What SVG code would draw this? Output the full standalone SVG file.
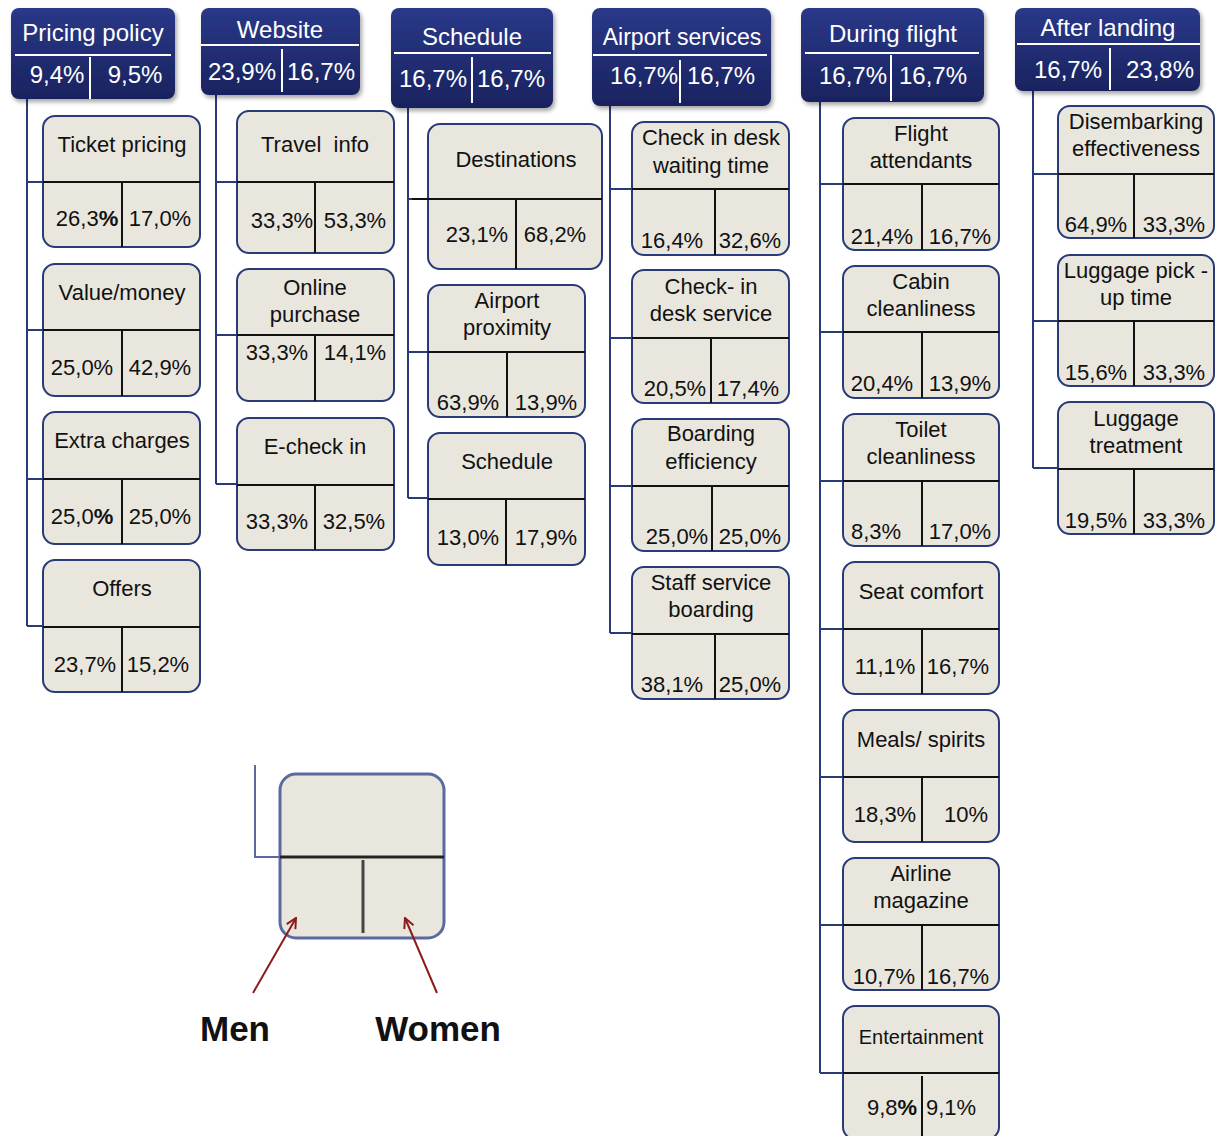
<svg xmlns="http://www.w3.org/2000/svg" width="1219" height="1136" viewBox="0 0 1219 1136">
<defs>
<linearGradient id="hg" x1="0" y1="0" x2="0" y2="1">
<stop offset="0" stop-color="#2a3888"/>
<stop offset="1" stop-color="#19235f"/>
</linearGradient>
<filter id="sh" x="-10%" y="-10%" width="130%" height="130%">
<feDropShadow dx="2" dy="3" stdDeviation="2" flood-color="#000" flood-opacity="0.35"/>
</filter>
<marker id="ah" viewBox="0 0 12 12" refX="11" refY="6" markerWidth="12" markerHeight="12" markerUnits="userSpaceOnUse" orient="auto">
<path d="M1,1 L11,6 L1,11" fill="none" stroke="#8b1c1c" stroke-width="2"/>
</marker>
</defs>
<style>
text{font-family:"Liberation Sans",Arial,sans-serif}
.hb{fill:url(#hg);filter:url(#sh)}
.hl{stroke:#fff;stroke-width:2}
.ht{fill:#fff;font-size:24px;text-anchor:middle}
.cb{fill:#e9e7dd;stroke:#283a78;stroke-width:2}
.dl{stroke:#111;stroke-width:2}
.ct{fill:#111;font-size:22px;text-anchor:middle}
.cn{fill:none;stroke:#283a78;stroke-width:2}
.b{font-weight:bold}
</style>
<rect width="1219" height="1136" fill="#fff"/>

<g id="connectors">
<path class="cn" d="M27,99 V626 M27,182 H43 M27,330 H43 M27,479 H43 M27,626 H43"/>
<path class="cn" d="M216,95 V484 M216,182 H237 M216,335 H237 M216,484 H237"/>
<path class="cn" d="M408,108 V498 M408,199 H428 M408,352 H428 M408,498 H428"/>
<path class="cn" d="M610,106 V633 M610,189 H632 M610,338 H632 M610,486 H632 M610,633 H632"/>
<path class="cn" d="M820,102 V1073 M820,184 H843 M820,332 H843 M820,481 H843 M820,629 H843 M820,777 H843 M820,925 H843 M820,1073 H843"/>
<path class="cn" d="M1033,91 V468 M1033,174 H1058 M1033,321 H1058 M1033,468 H1058"/>
</g>

<g id="h-pricing">
<rect class="hb" x="11" y="8" width="164" height="91" rx="8"/>
<line class="hl" x1="15" y1="55" x2="171" y2="55"/>
<line class="hl" x1="90" y1="57" x2="90" y2="99"/>
<text class="ht" x="93" y="41">Pricing policy</text>
<text class="ht" x="57" y="83">9,4%</text>
<text class="ht" x="135" y="83">9,5%</text>
</g>
<g id="h-website">
<rect class="hb" x="201" y="8" width="159" height="87" rx="8"/>
<line class="hl" x1="201" y1="45" x2="359" y2="45"/>
<line class="hl" x1="282" y1="49" x2="282" y2="92"/>
<text class="ht" x="280" y="38">Website</text>
<text class="ht" x="242" y="80">23,9%</text>
<text class="ht" x="321" y="80">16,7%</text>
</g>
<g id="h-schedule">
<rect class="hb" x="391" y="8" width="162" height="100" rx="8"/>
<line class="hl" x1="394" y1="53" x2="551" y2="53"/>
<line class="hl" x1="472" y1="57" x2="472" y2="103"/>
<text class="ht" x="472" y="45">Schedule</text>
<text class="ht" x="433" y="87">16,7%</text>
<text class="ht" x="511" y="87">16,7%</text>
</g>
<g id="h-airport">
<rect class="hb" x="592" y="8" width="179" height="98" rx="8"/>
<line class="hl" x1="593" y1="55" x2="767" y2="55"/>
<line class="hl" x1="680" y1="60" x2="680" y2="103"/>
<text class="ht" x="682" y="45" style="font-size:23px">Airport services</text>
<text class="ht" x="644" y="84">16,7%</text>
<text class="ht" x="721" y="84">16,7%</text>
</g>
<g id="h-during">
<rect class="hb" x="801" y="8" width="183" height="94" rx="8"/>
<line class="hl" x1="805" y1="53" x2="979" y2="53"/>
<line class="hl" x1="891" y1="55" x2="891" y2="101"/>
<text class="ht" x="893" y="42">During flight</text>
<text class="ht" x="853" y="84">16,7%</text>
<text class="ht" x="933" y="84">16,7%</text>
</g>
<g id="h-after">
<rect class="hb" x="1015" y="8" width="185" height="83" rx="8"/>
<line class="hl" x1="1017" y1="44" x2="1200" y2="44"/>
<line class="hl" x1="1110" y1="48" x2="1110" y2="90"/>
<text class="ht" x="1108" y="36">After landing</text>
<text class="ht" x="1068" y="78">16,7%</text>
<text class="ht" x="1160" y="78">23,8%</text>
</g>

<!-- column 1 -->
<g id="n-ticket">
<rect class="cb" x="43" y="116" width="157" height="131" rx="12"/>
<line class="dl" x1="43" y1="182" x2="200" y2="182"/>
<line class="dl" x1="122" y1="182" x2="122" y2="247"/>
<text class="ct" x="122" y="152">Ticket pricing</text>
<text class="ct" x="87" y="226">26,3<tspan class="b">%</tspan></text>
<text class="ct" x="160" y="226">17,0%</text>
</g>
<g id="n-value">
<rect class="cb" x="43" y="264" width="157" height="132" rx="12"/>
<line class="dl" x1="43" y1="330" x2="200" y2="330"/>
<line class="dl" x1="122" y1="330" x2="122" y2="396"/>
<text class="ct" x="122" y="300">Value/money</text>
<text class="ct" x="82" y="375">25,0%</text>
<text class="ct" x="160" y="375">42,9%</text>
</g>
<g id="n-extra">
<rect class="cb" x="43" y="412" width="157" height="132" rx="12"/>
<line class="dl" x1="43" y1="479" x2="200" y2="479"/>
<line class="dl" x1="122" y1="479" x2="122" y2="544"/>
<text class="ct" x="122" y="448">Extra charges</text>
<text class="ct" x="82" y="524">25,0<tspan class="b">%</tspan></text>
<text class="ct" x="160" y="524">25,0%</text>
</g>
<g id="n-offers">
<rect class="cb" x="43" y="560" width="157" height="132" rx="12"/>
<line class="dl" x1="43" y1="627" x2="200" y2="627"/>
<line class="dl" x1="122" y1="627" x2="122" y2="692"/>
<text class="ct" x="122" y="596">Offers</text>
<text class="ct" x="85" y="672">23,7%</text>
<text class="ct" x="158" y="672">15,2%</text>
</g>

<!-- column 2 -->
<g id="n-travel">
<rect class="cb" x="237" y="111" width="157" height="142" rx="12"/>
<line class="dl" x1="237" y1="182" x2="394" y2="182"/>
<line class="dl" x1="315" y1="182" x2="315" y2="253"/>
<text class="ct" x="315" y="152">Travel&#160; info</text>
<text class="ct" x="282" y="228">33,3%</text>
<text class="ct" x="355" y="228">53,3%</text>
</g>
<g id="n-online">
<rect class="cb" x="237" y="269" width="157" height="132" rx="12"/>
<line class="dl" x1="237" y1="335" x2="394" y2="335"/>
<line class="dl" x1="315" y1="335" x2="315" y2="401"/>
<text class="ct" x="315" y="295">Online</text>
<text class="ct" x="315" y="322">purchase</text>
<text class="ct" x="277" y="360">33,3%</text>
<text class="ct" x="355" y="360">14,1%</text>
</g>
<g id="n-echeck">
<rect class="cb" x="237" y="418" width="157" height="132" rx="12"/>
<line class="dl" x1="237" y1="485" x2="394" y2="485"/>
<line class="dl" x1="315" y1="485" x2="315" y2="550"/>
<text class="ct" x="315" y="454">E-check in</text>
<text class="ct" x="277" y="529">33,3%</text>
<text class="ct" x="354" y="529">32,5%</text>
</g>

<!-- column 3 -->
<g id="n-destinations">
<rect class="cb" x="428" y="124" width="174" height="145" rx="12"/>
<line class="dl" x1="412" y1="199" x2="602" y2="199"/>
<line class="dl" x1="516" y1="199" x2="516" y2="269"/>
<text class="ct" x="516" y="167">Destinations</text>
<text class="ct" x="477" y="242">23,1%</text>
<text class="ct" x="555" y="242">68,2%</text>
</g>
<g id="n-proximity">
<rect class="cb" x="428" y="285" width="157" height="132" rx="12"/>
<line class="dl" x1="428" y1="352" x2="585" y2="352"/>
<line class="dl" x1="507" y1="352" x2="507" y2="417"/>
<text class="ct" x="507" y="308">Airport</text>
<text class="ct" x="507" y="335">proximity</text>
<text class="ct" x="468" y="410">63,9%</text>
<text class="ct" x="546" y="410">13,9%</text>
</g>
<g id="n-schedule">
<rect class="cb" x="428" y="433" width="157" height="132" rx="12"/>
<line class="dl" x1="428" y1="499" x2="585" y2="499"/>
<line class="dl" x1="506" y1="499" x2="506" y2="565"/>
<text class="ct" x="507" y="469">Schedule</text>
<text class="ct" x="468" y="545">13,0%</text>
<text class="ct" x="546" y="545">17,9%</text>
</g>

<!-- column 4 -->
<g id="n-waiting">
<rect class="cb" x="632" y="122" width="157" height="133" rx="12"/>
<line class="dl" x1="632" y1="189" x2="789" y2="189"/>
<line class="dl" x1="715" y1="189" x2="715" y2="255"/>
<text class="ct" x="711" y="145">Check in desk</text>
<text class="ct" x="711" y="173">waiting time</text>
<text class="ct" x="672" y="248">16,4%</text>
<text class="ct" x="750" y="248">32,6%</text>
</g>
<g id="n-deskservice">
<rect class="cb" x="632" y="270" width="157" height="133" rx="12"/>
<line class="dl" x1="632" y1="338" x2="789" y2="338"/>
<line class="dl" x1="711" y1="338" x2="711" y2="403"/>
<text class="ct" x="711" y="294">Check- in</text>
<text class="ct" x="711" y="321">desk service</text>
<text class="ct" x="675" y="396">20,5%</text>
<text class="ct" x="748" y="396">17,4%</text>
</g>
<g id="n-boarding">
<rect class="cb" x="632" y="419" width="157" height="132" rx="12"/>
<line class="dl" x1="632" y1="486" x2="789" y2="486"/>
<line class="dl" x1="712" y1="486" x2="712" y2="551"/>
<text class="ct" x="711" y="441">Boarding</text>
<text class="ct" x="711" y="469">efficiency</text>
<text class="ct" x="677" y="544">25,0%</text>
<text class="ct" x="750" y="544">25,0%</text>
</g>
<g id="n-staff">
<rect class="cb" x="632" y="567" width="157" height="132" rx="12"/>
<line class="dl" x1="632" y1="634" x2="789" y2="634"/>
<line class="dl" x1="715" y1="634" x2="715" y2="699"/>
<text class="ct" x="711" y="590">Staff service</text>
<text class="ct" x="711" y="617">boarding</text>
<text class="ct" x="672" y="692">38,1%</text>
<text class="ct" x="750" y="692">25,0%</text>
</g>

<!-- column 5 -->
<g id="n-attendants">
<rect class="cb" x="843" y="118" width="156" height="132" rx="12"/>
<line class="dl" x1="843" y1="184" x2="999" y2="184"/>
<line class="dl" x1="922" y1="184" x2="922" y2="250"/>
<text class="ct" x="921" y="141">Flight</text>
<text class="ct" x="921" y="168">attendants</text>
<text class="ct" x="882" y="244">21,4%</text>
<text class="ct" x="960" y="244">16,7%</text>
</g>
<g id="n-cabin">
<rect class="cb" x="843" y="266" width="156" height="132" rx="12"/>
<line class="dl" x1="843" y1="332" x2="999" y2="332"/>
<line class="dl" x1="922" y1="332" x2="922" y2="398"/>
<text class="ct" x="921" y="289">Cabin</text>
<text class="ct" x="921" y="316">cleanliness</text>
<text class="ct" x="882" y="391">20,4%</text>
<text class="ct" x="960" y="391">13,9%</text>
</g>
<g id="n-toilet">
<rect class="cb" x="843" y="414" width="156" height="132" rx="12"/>
<line class="dl" x1="843" y1="481" x2="999" y2="481"/>
<line class="dl" x1="922" y1="481" x2="922" y2="546"/>
<text class="ct" x="921" y="437">Toilet</text>
<text class="ct" x="921" y="464">cleanliness</text>
<text class="ct" x="876" y="539">8,3%</text>
<text class="ct" x="960" y="539">17,0%</text>
</g>
<g id="n-seat">
<rect class="cb" x="843" y="562" width="156" height="132" rx="12"/>
<line class="dl" x1="843" y1="629" x2="999" y2="629"/>
<line class="dl" x1="922" y1="629" x2="922" y2="694"/>
<text class="ct" x="921" y="599">Seat comfort</text>
<text class="ct" x="885" y="674">11,1%</text>
<text class="ct" x="958" y="674">16,7%</text>
</g>
<g id="n-meals">
<rect class="cb" x="843" y="710" width="156" height="132" rx="12"/>
<line class="dl" x1="843" y1="777" x2="999" y2="777"/>
<line class="dl" x1="922" y1="777" x2="922" y2="842"/>
<text class="ct" x="921" y="747">Meals/ spirits</text>
<text class="ct" x="885" y="822">18,3%</text>
<text class="ct" x="966" y="822">10%</text>
</g>
<g id="n-magazine">
<rect class="cb" x="843" y="858" width="156" height="132" rx="12"/>
<line class="dl" x1="843" y1="925" x2="999" y2="925"/>
<line class="dl" x1="922" y1="925" x2="922" y2="990"/>
<text class="ct" x="921" y="881">Airline</text>
<text class="ct" x="921" y="908">magazine</text>
<text class="ct" x="884" y="984">10,7%</text>
<text class="ct" x="958" y="984">16,7%</text>
</g>
<g id="n-entertainment">
<rect class="cb" x="843" y="1006" width="156" height="133" rx="12"/>
<line class="dl" x1="843" y1="1073" x2="999" y2="1073"/>
<line class="dl" x1="922" y1="1076" x2="922" y2="1136"/>
<text class="ct" x="921" y="1044" style="font-size:20px">Entertainment</text>
<text class="ct" x="892" y="1115">9,8<tspan class="b">%</tspan></text>
<text class="ct" x="951" y="1115">9,1%</text>
</g>

<!-- column 6 -->
<g id="n-disembark">
<rect class="cb" x="1058" y="106" width="156" height="132" rx="12"/>
<line class="dl" x1="1058" y1="174" x2="1214" y2="174"/>
<line class="dl" x1="1134" y1="174" x2="1134" y2="238"/>
<text class="ct" x="1136" y="129">Disembarking</text>
<text class="ct" x="1136" y="156">effectiveness</text>
<text class="ct" x="1096" y="232">64,9%</text>
<text class="ct" x="1174" y="232">33,3%</text>
</g>
<g id="n-pickup">
<rect class="cb" x="1058" y="255" width="156" height="131" rx="12"/>
<line class="dl" x1="1058" y1="321" x2="1214" y2="321"/>
<line class="dl" x1="1134" y1="321" x2="1134" y2="386"/>
<text class="ct" x="1136" y="278">Luggage pick -</text>
<text class="ct" x="1136" y="305">up time</text>
<text class="ct" x="1096" y="380">15,6%</text>
<text class="ct" x="1174" y="380">33,3%</text>
</g>
<g id="n-treatment">
<rect class="cb" x="1058" y="402" width="156" height="132" rx="12"/>
<line class="dl" x1="1058" y1="469" x2="1214" y2="469"/>
<line class="dl" x1="1134" y1="469" x2="1134" y2="534"/>
<text class="ct" x="1136" y="426">Luggage</text>
<text class="ct" x="1136" y="453">treatment</text>
<text class="ct" x="1096" y="528">19,5%</text>
<text class="ct" x="1174" y="528">33,3%</text>
</g>

<!-- legend -->
<g id="legend">
<path d="M255,765 V857 H280" fill="none" stroke="#5a6aa0" stroke-width="2"/>
<rect x="280" y="774" width="164" height="164" rx="16" fill="#e9e7dd" stroke="#5a6aa0" stroke-width="3"/>
<line x1="280" y1="857" x2="444" y2="857" stroke="#222" stroke-width="3"/>
<line x1="363" y1="860" x2="363" y2="933" stroke="#444" stroke-width="3"/>
<line x1="253" y1="993" x2="296" y2="918" stroke="#8b1c1c" stroke-width="2" marker-end="url(#ah)"/>
<line x1="437" y1="993" x2="405" y2="918" stroke="#8b1c1c" stroke-width="2" marker-end="url(#ah)"/>
<text x="235" y="1041" text-anchor="middle" font-size="35" font-weight="bold" fill="#111">Men</text>
<text x="438" y="1041" text-anchor="middle" font-size="35" font-weight="bold" fill="#111">Women</text>
</g>
</svg>
